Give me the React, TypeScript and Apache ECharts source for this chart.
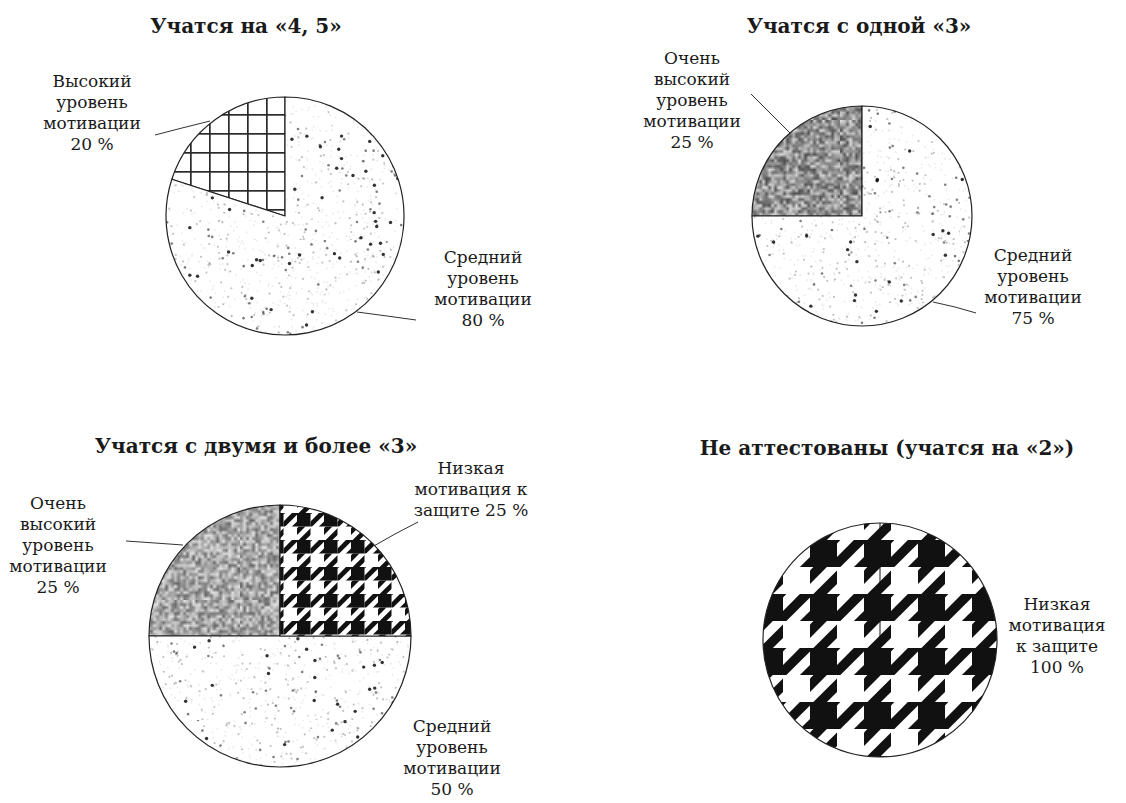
import React, { useEffect, useRef } from 'react';
import * as echarts from 'echarts';

// ---- data ----
const titles = [
  'Учатся на «4, 5»',
  'Учатся с одной «3»',
  'Учатся с двумя и более «3»',
  'Не аттестованы (учатся на «2»)',
];

const pie1Names = ['Высокий\nуровень\nмотивации', 'Средний\nуровень\nмотивации'];
const pie1Values = [20, 80];

const pie2Names = ['Очень\nвысокий\nуровень\nмотивации', 'Средний\nуровень\nмотивации'];
const pie2Values = [25, 75];

const pie3Names = ['Очень\nвысокий\nуровень\nмотивации', 'Средний\nуровень\nмотивации', 'Низкая\nмотивация к\nзащите'];
const pie3Values = [25, 50, 25];

const pie4Names = ['Низкая\nмотивация\nк защите'];
const pie4Values = [100];

// ---- layout ----
const TITLE_POS = [
  [246, 28],
  [859, 28],
  [256, 448],
  [887, 450],
];
const PIE_CENTER = [
  [285, 216],
  [862, 216],
  [280, 636],
  [880, 640],
];
const PIE_RADIUS = [119, 110, 131, 117];

// label positions: [x, y, separator, linePoints|null]
const LABELS: any[][] = [
  [
    [92, 112, '\n', [[210, 121], [182, 128], [155, 135]]],
    [483, 288, '\n', [[357, 312], [387, 316], [416, 320]]],
  ],
  [
    [692, 100, '\n', [[790, 133], [770, 113], [751, 94]]],
    [1033, 286, '\n', [[933, 302], [955, 307], [976, 313]]],
  ],
  [
    [58, 545, '\n', [[183, 545], [155, 543], [126, 541]]],
    [452, 757, '\n', null],
    [471, 489, ' ', [[372, 547], [395, 534], [418, 522]]],
  ],
  [[1057, 635, '\n', null]],
];

const FONT = "'DejaVu Serif', serif";

// ---- textures ----
function hash(n: number) {
  const x = Math.sin(n * 127.1 + 311.7) * 43758.5453;
  return x - Math.floor(x);
}
function makeCanvas(w: number, h: number) {
  const c = document.createElement('canvas');
  c.width = w;
  c.height = h;
  return c;
}
function speckle(size: number, seed: number) {
  const c = makeCanvas(size, size);
  const ctx = c.getContext('2d')!;
  ctx.fillStyle = '#fff';
  ctx.fillRect(0, 0, size, size);
  for (let i = 0; i < 1300; i++) {
    const x = hash(i * 3 + seed) * size;
    const y = hash(i * 3 + 1 + seed * 7) * size;
    const t = hash(i * 3 + 2 + seed * 13);
    let col: string;
    let r: number;
    if (t < 0.6) {
      col = 'rgba(0,0,0,0.08)';
      r = 1.0;
    } else if (t < 0.88) {
      col = 'rgba(0,0,0,0.24)';
      r = 1.1;
    } else if (t < 0.96) {
      col = 'rgba(0,0,0,0.5)';
      r = 1.3;
    } else {
      col = 'rgba(0,0,0,0.8)';
      r = 1.7;
    }
    ctx.fillStyle = col;
    ctx.beginPath();
    ctx.arc(x, y, r, 0, Math.PI * 2);
    ctx.fill();
  }
  return c;
}
function noise(size: number, base: number, amp: number, seed: number) {
  const s = size / 3;
  const small = makeCanvas(s, s);
  const sctx = small.getContext('2d')!;
  const img = sctx.createImageData(s, s);
  for (let i = 0; i < s * s; i++) {
    const v = Math.max(0, Math.min(255, base + (hash(i + seed * 1000) - 0.5) * 2 * amp));
    img.data[i * 4] = v;
    img.data[i * 4 + 1] = v;
    img.data[i * 4 + 2] = v;
    img.data[i * 4 + 3] = 255;
  }
  sctx.putImageData(img, 0, 0);
  const c = makeCanvas(size, size);
  const ctx = c.getContext('2d')!;
  ctx.imageSmoothingEnabled = true;
  ctx.drawImage(small, 0, 0, size, size);
  return c;
}
function gridTex(cell: number) {
  const c = makeCanvas(cell, cell);
  const ctx = c.getContext('2d')!;
  ctx.fillStyle = '#fff';
  ctx.fillRect(0, 0, cell, cell);
  ctx.fillStyle = '#2a2a2a';
  ctx.fillRect(0, 0, cell, 1.7);
  ctx.fillRect(0, 0, 1.7, cell);
  return c;
}
function houndstooth(P: number) {
  const c = makeCanvas(P, P);
  const ctx = c.getContext('2d')!;
  const u = P / 8;
  ctx.fillStyle = '#fff';
  ctx.fillRect(0, 0, P, P);
  ctx.fillStyle = '#111';
  ctx.fillRect(0, 0, 4 * u, 4 * u);
  const bands = (qx: number, qy: number, offset: number) => {
    ctx.save();
    ctx.beginPath();
    ctx.rect(qx, qy, 4 * u, 4 * u);
    ctx.clip();
    for (let k = -2; k <= 6; k++) {
      const s0 = k * 4 * u + offset;
      const s1 = s0 + 2 * u;
      const y0 = -P;
      const y1 = 2 * P;
      ctx.beginPath();
      ctx.moveTo(s0 - y0, y0);
      ctx.lineTo(s1 - y0, y0);
      ctx.lineTo(s1 - y1, y1);
      ctx.lineTo(s0 - y1, y1);
      ctx.closePath();
      ctx.fill();
    }
    ctx.restore();
  };
  bands(0, 4 * u, 0.5 * u);
  bands(4 * u, 0, 2.5 * u);
  return c;
}
function pat(c: HTMLCanvasElement, extra: any = {}) {
  return { image: c, repeat: 'repeat', imageWidth: c.width, imageHeight: c.height, ...extra };
}

export default function App() {
  const ref = useRef<HTMLDivElement>(null);

  useEffect(() => {
    const chart = echarts.init(ref.current!, null, { renderer: 'svg' });

    const speck1 = pat(speckle(240, 1));
    const speck2 = pat(speckle(240, 5));
    const speck3 = pat(speckle(240, 9));
    const grid = pat(gridTex(19), { y: 10 });
    const gray2 = pat(noise(120, 148, 70, 3));
    const gray3 = pat(noise(120, 166, 62, 7));
    const hound3 = pat(houndstooth(27));
    const hound4 = pat(houndstooth(54));

    const fills = [
      [grid, speck1],
      [gray2, speck2],
      [gray3, speck3, hound3],
      [hound4],
    ];
    const names = [pie1Names, pie2Names, pie3Names, pie4Names];
    const values = [pie1Values, pie2Values, pie3Values, pie4Values];

    const series = names.map((nm, si) => ({
      type: 'pie',
      center: PIE_CENTER[si],
      radius: PIE_RADIUS[si],
      startAngle: 90,
      clockwise: false,
      avoidLabelOverlap: false,
      silent: true,
      emphasis: { disabled: true },
      itemStyle: { borderColor: '#222', borderWidth: 1.2 },
      data: nm.map((n, i) => ({
        name: n,
        value: values[si][i],
        itemStyle: { color: fills[si][i] },
        labelLine: { show: !!LABELS[si][i][3] },
      })),
      label: {
        show: true,
        position: 'outside',
        fontFamily: FONT,
        fontSize: 17,
        lineHeight: 21,
        color: '#1a1a1a',
        align: 'center',
        formatter: (p: any) => p.name + LABELS[si][p.dataIndex][2] + p.value + ' %',
      },
      labelLine: { show: true, lineStyle: { color: '#333', width: 1 } },
      labelLayout: (p: any) => {
        const L = LABELS[si][p.dataIndex];
        const o: any = { x: L[0], y: L[1], align: 'center', verticalAlign: 'middle' };
        if (L[3]) o.labelLinePoints = L[3];
        return o;
      },
    }));

    const option: any = {
      animation: false,
      backgroundColor: '#fff',
      title: titles.map((t, i) => ({
        text: t,
        left: TITLE_POS[i][0],
        top: TITLE_POS[i][1] - 12,
        textAlign: 'center',
        padding: 0,
        textStyle: {
          fontFamily: FONT,
          fontSize: 20,
          fontWeight: 'bold',
          color: '#1a1a1a',
        },
      })),
      graphic: [
        {
          type: 'line',
          shape: {
            x1: PIE_CENTER[3][0],
            y1: PIE_CENTER[3][1] - PIE_RADIUS[3],
            x2: PIE_CENTER[3][0],
            y2: PIE_CENTER[3][1],
          },
          style: { stroke: '#111', lineWidth: 1 },
          z: 10,
        },
      ],
      series,
    };
    chart.setOption(option);
    return () => chart.dispose();
  }, []);

  return (
    <div
      ref={ref}
      style={{ position: 'absolute', left: 0, top: 0, width: 1126, height: 803, background: '#fff' }}
    />
  );
}
